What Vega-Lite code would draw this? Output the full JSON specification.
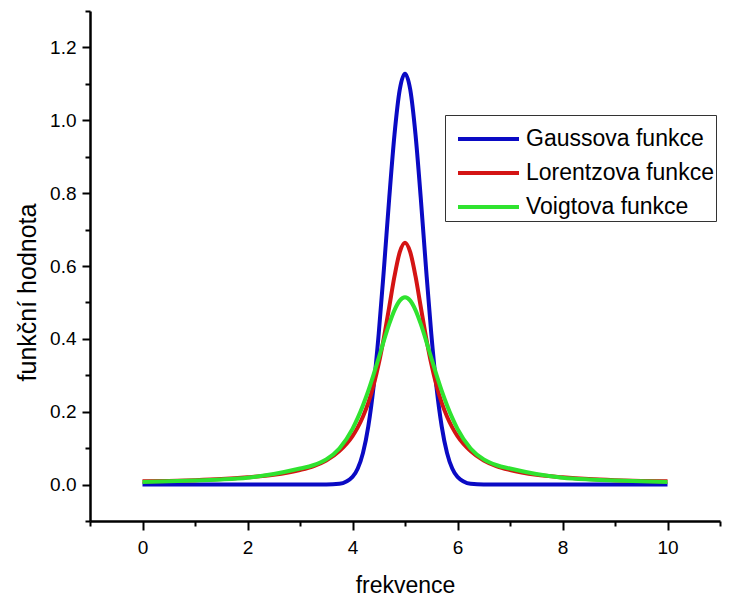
{
  "$schema": "https://vega.github.io/schema/vega-lite/v6.json",
  "width": 630,
  "height": 510,
  "autosize": {"type": "none"},
  "padding": {"left": 90, "top": 11, "right": 10, "bottom": 76},
  "background": "white",
  "config": {
    "font": "Liberation Sans",
    "view": {"stroke": null},
    "axis": {
      "grid": false,
      "domainColor": "black",
      "domainWidth": 2.5,
      "tickColor": "black",
      "tickWidth": 2,
      "labelColor": "black",
      "labelFont": "Liberation Sans",
      "labelFontSize": 19,
      "titleColor": "black",
      "titleFont": "Liberation Sans",
      "titleFontWeight": "normal",
      "titleFontSize": 23
    }
  },
  "data": {
    "values": [
      {"f": 0, "Gaussova funkce": 0, "Lorentzova funkce": 0.009, "Voigtova funkce": 0.007},
      {"f": 0.5, "Gaussova funkce": 0, "Lorentzova funkce": 0.010, "Voigtova funkce": 0.009},
      {"f": 1, "Gaussova funkce": 0, "Lorentzova funkce": 0.012, "Voigtova funkce": 0.011},
      {"f": 1.5, "Gaussova funkce": 0, "Lorentzova funkce": 0.015, "Voigtova funkce": 0.014},
      {"f": 2, "Gaussova funkce": 0, "Lorentzova funkce": 0.020, "Voigtova funkce": 0.019},
      {"f": 2.5, "Gaussova funkce": 0, "Lorentzova funkce": 0.027, "Voigtova funkce": 0.029},
      {"f": 3, "Gaussova funkce": 0, "Lorentzova funkce": 0.040, "Voigtova funkce": 0.044},
      {"f": 3.25, "Gaussova funkce": 0, "Lorentzova funkce": 0.050, "Voigtova funkce": 0.053},
      {"f": 3.5, "Gaussova funkce": 0, "Lorentzova funkce": 0.066, "Voigtova funkce": 0.069},
      {"f": 3.75, "Gaussova funkce": 0.002, "Lorentzova funkce": 0.092, "Voigtova funkce": 0.099},
      {"f": 4, "Gaussova funkce": 0.021, "Lorentzova funkce": 0.133, "Voigtova funkce": 0.153},
      {"f": 4.1, "Gaussova funkce": 0.044, "Lorentzova funkce": 0.157, "Voigtova funkce": 0.183},
      {"f": 4.2, "Gaussova funkce": 0.087, "Lorentzova funkce": 0.187, "Voigtova funkce": 0.218},
      {"f": 4.3, "Gaussova funkce": 0.159, "Lorentzova funkce": 0.224, "Voigtova funkce": 0.257},
      {"f": 4.4, "Gaussova funkce": 0.267, "Lorentzova funkce": 0.272, "Voigtova funkce": 0.301},
      {"f": 4.5, "Gaussova funkce": 0.415, "Lorentzova funkce": 0.332, "Voigtova funkce": 0.348},
      {"f": 4.6, "Gaussova funkce": 0.595, "Lorentzova funkce": 0.405, "Voigtova funkce": 0.396},
      {"f": 4.7, "Gaussova funkce": 0.787, "Lorentzova funkce": 0.488, "Voigtova funkce": 0.441},
      {"f": 4.8, "Gaussova funkce": 0.961, "Lorentzova funkce": 0.572, "Voigtova funkce": 0.479},
      {"f": 4.9, "Gaussova funkce": 1.084, "Lorentzova funkce": 0.638, "Voigtova funkce": 0.505},
      {"f": 5, "Gaussova funkce": 1.128, "Lorentzova funkce": 0.664, "Voigtova funkce": 0.514},
      {"f": 5.1, "Gaussova funkce": 1.084, "Lorentzova funkce": 0.638, "Voigtova funkce": 0.505},
      {"f": 5.2, "Gaussova funkce": 0.961, "Lorentzova funkce": 0.572, "Voigtova funkce": 0.479},
      {"f": 5.3, "Gaussova funkce": 0.787, "Lorentzova funkce": 0.488, "Voigtova funkce": 0.441},
      {"f": 5.4, "Gaussova funkce": 0.595, "Lorentzova funkce": 0.405, "Voigtova funkce": 0.396},
      {"f": 5.5, "Gaussova funkce": 0.415, "Lorentzova funkce": 0.332, "Voigtova funkce": 0.348},
      {"f": 5.6, "Gaussova funkce": 0.267, "Lorentzova funkce": 0.272, "Voigtova funkce": 0.301},
      {"f": 5.7, "Gaussova funkce": 0.159, "Lorentzova funkce": 0.224, "Voigtova funkce": 0.257},
      {"f": 5.8, "Gaussova funkce": 0.087, "Lorentzova funkce": 0.187, "Voigtova funkce": 0.218},
      {"f": 5.9, "Gaussova funkce": 0.044, "Lorentzova funkce": 0.157, "Voigtova funkce": 0.183},
      {"f": 6, "Gaussova funkce": 0.021, "Lorentzova funkce": 0.133, "Voigtova funkce": 0.153},
      {"f": 6.25, "Gaussova funkce": 0.002, "Lorentzova funkce": 0.092, "Voigtova funkce": 0.099},
      {"f": 6.5, "Gaussova funkce": 0, "Lorentzova funkce": 0.066, "Voigtova funkce": 0.069},
      {"f": 6.75, "Gaussova funkce": 0, "Lorentzova funkce": 0.050, "Voigtova funkce": 0.053},
      {"f": 7, "Gaussova funkce": 0, "Lorentzova funkce": 0.040, "Voigtova funkce": 0.044},
      {"f": 7.5, "Gaussova funkce": 0, "Lorentzova funkce": 0.027, "Voigtova funkce": 0.029},
      {"f": 8, "Gaussova funkce": 0, "Lorentzova funkce": 0.020, "Voigtova funkce": 0.019},
      {"f": 8.5, "Gaussova funkce": 0, "Lorentzova funkce": 0.015, "Voigtova funkce": 0.014},
      {"f": 9, "Gaussova funkce": 0, "Lorentzova funkce": 0.012, "Voigtova funkce": 0.011},
      {"f": 9.5, "Gaussova funkce": 0, "Lorentzova funkce": 0.010, "Voigtova funkce": 0.009},
      {"f": 10, "Gaussova funkce": 0, "Lorentzova funkce": 0.009, "Voigtova funkce": 0.007}
    ]
  },
  "transform": [
    {"fold": ["Gaussova funkce", "Lorentzova funkce", "Voigtova funkce"], "as": ["funkce", "hodnota"]}
  ],
  "resolve": {"axis": {"x": "independent", "y": "independent"}},
  "layer": [
    {
      "mark": {"type": "line", "strokeWidth": 4, "interpolate": "monotone"},
      "encoding": {
        "x": {
          "field": "f", "type": "quantitative",
          "scale": {"domain": [-1, 11], "nice": false, "zero": false},
          "axis": {
            "orient": "bottom",
            "values": [0, 2, 4, 6, 8, 10],
            "tickSize": 9,
            "labelPadding": 8,
            "title": "frekvence",
            "titleX": 315,
            "titleY": 71,
            "titleBaseline": "alphabetic",
            "titleAnchor": "middle"
          }
        },
        "y": {
          "field": "hodnota", "type": "quantitative",
          "scale": {"domain": [-0.1, 1.3], "nice": false, "zero": false},
          "axis": {
            "orient": "left",
            "values": [0, 0.2, 0.4, 0.6, 0.8, 1.0, 1.2],
            "format": ".1f",
            "tickSize": 8,
            "labelPadding": 6,
            "title": "funkční hodnota",
            "titleFontSize": 25,
            "titleAngle": -90,
            "titleX": -55,
            "titleY": 281,
            "titleAlign": "center",
            "titleBaseline": "alphabetic"
          }
        },
        "color": {
          "field": "funkce", "type": "nominal",
          "scale": {
            "domain": ["Gaussova funkce", "Lorentzova funkce", "Voigtova funkce"],
            "range": ["#0a0ac4", "#d41414", "#2fe32f"]
          },
          "legend": {
            "orient": "none",
            "legendX": 355,
            "legendY": 104,
            "title": null,
            "symbolType": "M-0.55,0H2.5",
            "symbolSize": 1600,
            "symbolStrokeWidth": 4,
            "symbolOffset": 0,
            "labelFont": "Liberation Sans",
            "labelFontSize": 23,
            "labelColor": "black",
            "labelOffset": 35,
            "labelLimit": 0,
            "rowPadding": -14,
            "padding": 2,
            "strokeColor": "#333333",
            "fillColor": "white"
          }
        }
      }
    },
    {
      "mark": {"type": "line", "opacity": 0},
      "encoding": {
        "x": {
          "field": "f", "type": "quantitative",
          "axis": {
            "orient": "bottom",
            "values": [-1, 1, 3, 5, 7, 9, 11],
            "tickSize": 5,
            "labels": false,
            "domain": false,
            "title": null
          }
        },
        "y": {
          "field": "hodnota", "type": "quantitative",
          "axis": {
            "orient": "left",
            "values": [-0.1, 0.1, 0.3, 0.5, 0.7, 0.9, 1.1, 1.3],
            "tickSize": 5,
            "labels": false,
            "domain": false,
            "title": null
          }
        },
        "detail": {"field": "funkce", "type": "nominal"}
      }
    }
  ]
}
